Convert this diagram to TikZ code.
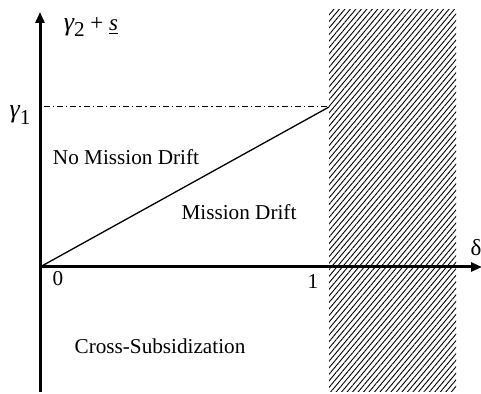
\documentclass[tikz,border=0pt]{standalone}
\usepackage{fontspec}
\setmainfont{Liberation Serif}
\usetikzlibrary{arrows.meta,patterns.meta}
\tikzset{
  axisline/.style={line width=1.5pt, -{Triangle[length=5.5pt,width=4.5pt]}},
  lbl/.style={inner sep=0pt, font=\fontsize{10.6}{12}\selectfont},
  mathlbl/.style={inner sep=0pt, font=\fontsize{11.5}{12}\selectfont},
  hatchbox/.style={pattern={Lines[angle=50,distance=2.1pt,line width=0.45pt]}},
  bound/.style={line width=0.65pt}}
\newcommand{\gsub}[1]{{\fontsize{13}{13}\selectfont\itshape γ}\raisebox{-0.6ex}{\fontsize{10.6}{10}\selectfont #1}}

\begin{document}
\begin{tikzpicture}[x=0.5pt,y=-0.5pt]
    \useasboundingbox (0,0) rectangle (481,394);
    % infeasible region
    \path[hatchbox] (329,10) rectangle (456,392);
    % axes
    \coordinate (orig) at (40,267);
    \coordinate (ybot) at (40,392);
    \coordinate (ytop) at (40,12);
    \coordinate (xend) at (482,267);
    \draw[axisline] (ybot) -- (ytop);
    \draw[axisline] (orig) -- (xend);
    % threshold and boundary
    \coordinate (gstart) at (44,107);
    \coordinate (corner) at (329,107);
    \draw[line width=0.5pt, dash pattern=on 3pt off 1.5pt on 0.6pt off 1.5pt] (gstart) -- (corner);
    \draw[bound] (orig) -- (corner);
    % labels
    \node[mathlbl] (ylab) at (91,27) {\gsub{2} + \underline{\itshape s}};
    \node[mathlbl] (g1) at (20,115) {\gsub{1}};
    \node[mathlbl] (dlab) at (476,248) {δ};
    \node[lbl] (zero) at (58,279) {0};
    \node[lbl] (one) at (313,282) {1};
    \node[lbl] (nodrift) at (126,157) {No Mission Drift};
    \node[lbl] (drift) at (239,212) {Mission Drift};
    \node[lbl] (cross) at (160,346) {Cross-Subsidization};
  \end{tikzpicture}
\end{document}
